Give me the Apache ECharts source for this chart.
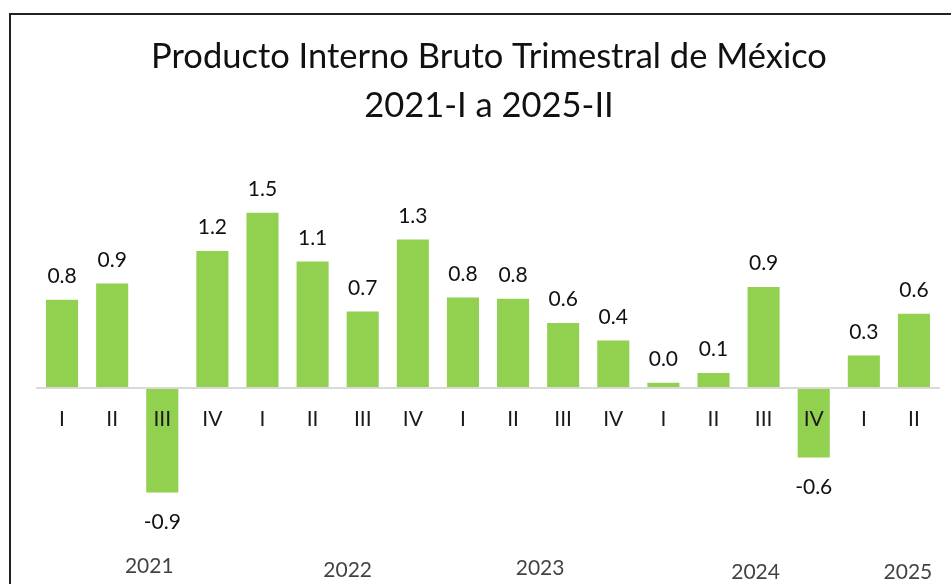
<!DOCTYPE html>
<html>
<head>
    <meta charset="utf-8">
    <title>PIB Trimestral</title>
    <script src="https://cdn.jsdelivr.net/npm/echarts@6/dist/echarts.min.js"></script>
    <style>
        html, body { margin: 0; padding: 0; background: #fff; }
    </style>
</head>
<body>
    <div id="main" style="width: 951px;height:584px;"></div>
    <script type="text/javascript">

    // trimestres (eje x)
    var quarters = ['I', 'II', 'III', 'IV', 'I', 'II', 'III', 'IV', 'I', 'II', 'III', 'IV', 'I', 'II', 'III', 'IV', 'I', 'II'];
    // variacion porcentual (etiqueta con 1 decimal)
    var values = [0.76, 0.90, -0.90, 1.18, 1.51, 1.09, 0.66, 1.28, 0.78, 0.77, 0.56, 0.41, 0.045, 0.13, 0.87, -0.60, 0.28, 0.64];
    // etiquetas de año
    var years = ['2021', '2022', '2023', '2024', '2025'];
    // donde cae cada año (posicion en unidades de categoria, y nivel)
    var yearPos = [[1.74, -1.54], [5.70, -1.57], [9.54, -1.55], [13.84, -1.59], [16.88, -1.59]];

    var font = 'Lato';
    var yMin = -1.6, yMax = 2.0;
    var gridTop = 156, gridH = 417.6;
    var myChart = echarts.init(document.getElementById('main'));

    var barData = [];
    for (var i = 0; i < values.length; i++) {
        var v = values[i];
        barData.push({
            value: v,
            label: v < 0 ? { position: 'bottom', distance: 19 } : { position: 'top', distance: 13 }
        });
    }

    var yearData = [];
    for (var j = 0; j < years.length; j++) {
        yearData.push({ value: yearPos[j], name: years[j] });
    }

    // distancia del borde inferior de la grilla a la linea cero
    var zeroOffset = gridH * (0 - yMin) / (yMax - yMin);

    var option = {
        backgroundColor: '#fff',
        animation: false,
        title: {
            text: 'Producto Interno Bruto Trimestral de México\n2021-I a 2025-II',
            left: 484,
            top: 27,
            textAlign: 'center',
            textStyle: {
                fontFamily: font,
                fontSize: 34.5,
                fontWeight: 'normal',
                color: '#111',
                lineHeight: 49
            }
        },
        grid: {
            left: 37,
            right: 12,
            top: gridTop,
            height: gridH,
            outerBoundsMode: 'none'
        },
        xAxis: [{
            type: 'category',
            data: quarters,
            position: 'bottom',
            offset: -zeroOffset,
            z: 5,
            axisLine: { onZero: false, lineStyle: { color: '#d9d9d9', width: 2 } },
            axisTick: { show: false },
            axisLabel: {
                margin: 21,
                fontFamily: font,
                fontSize: 21,
                color: '#1a1a1a'
            }
        }, {
            type: 'value',
            min: -0.5,
            max: 17.5,
            show: false
        }],
        yAxis: {
            type: 'value',
            min: yMin,
            max: yMax,
            show: false
        },
        series: [{
            type: 'bar',
            data: barData,
            barCategoryGap: '36%',
            itemStyle: { color: '#92D050' },
            label: {
                show: true,
                fontFamily: font,
                fontSize: 21,
                color: '#111',
                formatter: function (p) { return p.value.toFixed(1); }
            }
        }, {
            type: 'scatter',
            xAxisIndex: 1,
            data: yearData,
            symbolSize: 0,
            silent: true,
            clip: false,
            label: {
                show: true,
                position: 'inside',
                fontFamily: font,
                fontSize: 21,
                color: '#111',
                formatter: function (p) { return p.name; }
            }
        }],
        graphic: [{
            type: 'rect',
            shape: { x: 10, y: 14, width: 980, height: 620 },
            style: { fill: null, stroke: '#222', lineWidth: 2 },
            z: 10
        }]
    };

    myChart.setOption(option);
    </script>
</body>
</html>
